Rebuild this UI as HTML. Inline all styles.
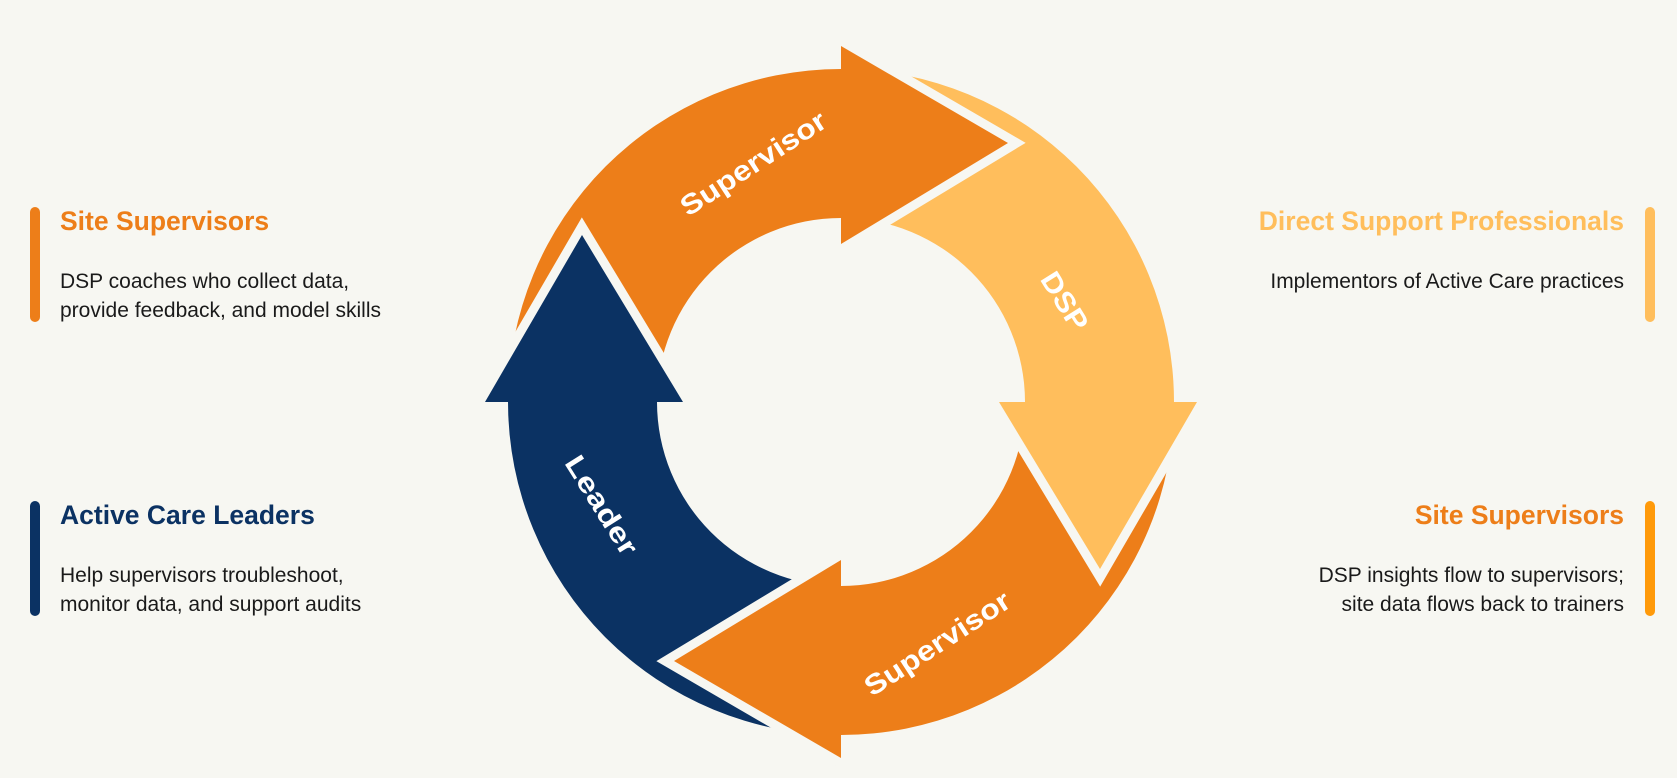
<!DOCTYPE html>
<html><head><meta charset="utf-8">
<style>
html,body{margin:0;padding:0;background:#f7f7f2;}
body{width:1677px;height:778px;position:relative;overflow:hidden;font-family:"Liberation Sans",sans-serif;}
.bar{position:absolute;width:10px;border-radius:5px;}
.t{position:absolute;font-weight:bold;font-size:26.5px;white-space:nowrap;}
.d{position:absolute;font-size:21px;line-height:29px;color:#1a1a1a;white-space:nowrap;}
.r{text-align:right;}
svg{position:absolute;left:0;top:0;}
</style></head><body>
<svg width="1677" height="778" viewBox="0 0 1677 778">
  <path d="M508,402 A333,333 0 0 1 841,69 L841,218 A184,184 0 0 0 657,402 Z" fill="#ed7e19"/>
  <path d="M841,69 A333,333 0 0 1 1174,402 L1025,402 A184,184 0 0 0 841,218 Z" fill="#ffbe5c"/>
  <path d="M1174,402 A333,333 0 0 1 841,735 L841,586 A184,184 0 0 0 1025,402 Z" fill="#ed7e19"/>
  <path d="M841,735 A333,333 0 0 1 508,402 L657,402 A184,184 0 0 0 841,586 Z" fill="#0b3263"/>
  <g fill="none" stroke="#f7f7f2" stroke-width="18" stroke-linejoin="miter" stroke-miterlimit="10">
    <polyline points="841,46 1008,143 841,244"/>
    <polyline points="1197,402 1100,569 999,402"/>
    <polyline points="841,758 674,661 841,560"/>
    <polyline points="485,402 582,235 683,402"/>
  </g>
  <polygon points="841,46 1008,143 841,244" fill="#ed7e19"/>
  <polygon points="1197,402 1100,569 999,402" fill="#ffbe5c"/>
  <polygon points="841,758 674,661 841,560" fill="#ed7e19"/>
  <polygon points="485,402 582,235 683,402" fill="#0b3263"/>
  <g font-family="Liberation Sans, sans-serif" font-weight="bold" font-size="28" fill="#fff" text-anchor="middle">
    <text x="753" y="173" transform="rotate(-33 753 163)" textLength="168" lengthAdjust="spacingAndGlyphs">Supervisor</text>
    <text x="1065" y="311" transform="rotate(58 1065 301)" textLength="64" lengthAdjust="spacingAndGlyphs">DSP</text>
    <text x="937" y="653" transform="rotate(-33 937 643)" textLength="168" lengthAdjust="spacingAndGlyphs">Supervisor</text>
    <text x="602" y="515" transform="rotate(58 602 505)" textLength="112" lengthAdjust="spacingAndGlyphs">Leader</text>
  </g>
</svg>

<div class="bar" style="left:30px;top:207px;height:115px;background:#ed7e19"></div>
<div class="t" style="left:60px;top:206px;color:#ed7e19">Site Supervisors</div>
<div class="d" style="left:60px;top:267px">DSP coaches who collect data,<br>provide feedback, and model skills</div>

<div class="bar" style="left:30px;top:501px;height:115px;background:#0b3263"></div>
<div class="t" style="left:60px;top:500px;color:#0b3263">Active Care Leaders</div>
<div class="d" style="left:60px;top:561px">Help supervisors troubleshoot,<br>monitor data, and support audits</div>

<div class="bar" style="left:1645px;top:207px;height:115px;background:#ffbe5c"></div>
<div class="t r" style="right:53px;top:206px;color:#ffbe5c">Direct Support Professionals</div>
<div class="d r" style="right:53px;top:267px">Implementors of Active Care practices</div>

<div class="bar" style="left:1645px;top:501px;height:115px;background:#ff9a0a"></div>
<div class="t r" style="right:53px;top:500px;color:#ed7e19">Site Supervisors</div>
<div class="d r" style="right:53px;top:561px">DSP insights flow to supervisors;<br>site data flows back to trainers</div>
</body></html>
